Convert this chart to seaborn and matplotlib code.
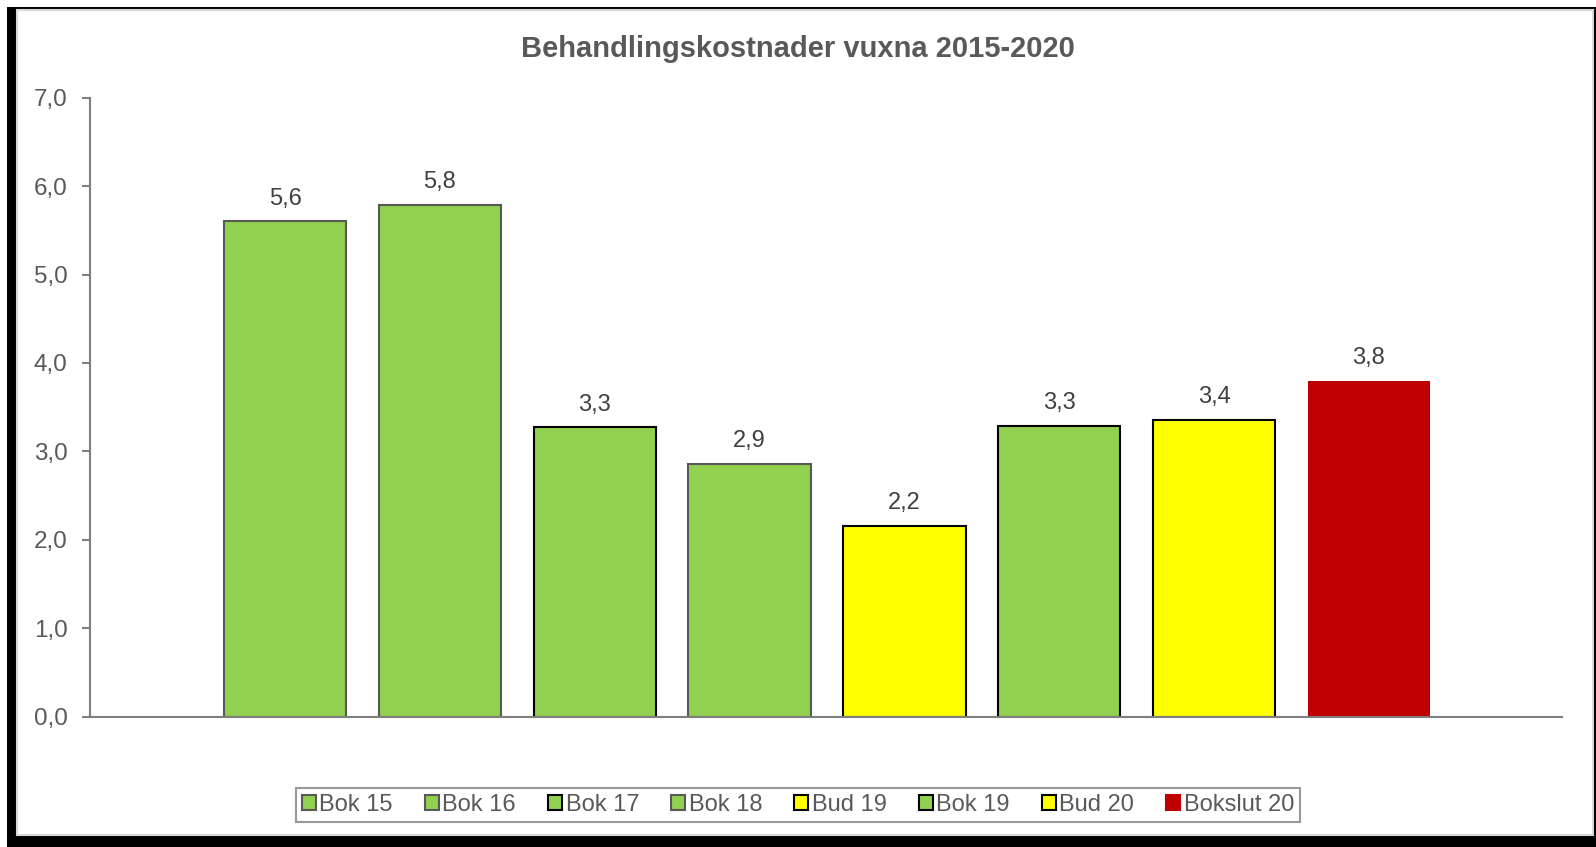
import seaborn as sns
import matplotlib.pyplot as plt
import pandas as pd
from matplotlib.patches import Patch, Rectangle

# data
categories = ["Bok 15", "Bok 16", "Bok 17", "Bok 18", "Bud 19", "Bok 19", "Bud 20", "Bokslut 20"]
values = [5.6, 5.79, 3.27, 2.86, 2.16, 3.29, 3.36, 3.8]
yticks = [0, 1, 2, 3, 4, 5, 6, 7]

GREEN = "#92D050"
YELLOW = "#FFFF00"
RED = "#C00000"
fill_colors = [GREEN, GREEN, GREEN, GREEN, YELLOW, GREEN, YELLOW, RED]
edge_colors = ["#595959", "#595959", "#000000", "#595959", "#000000", "#000000", "#000000", "none"]

df = pd.DataFrame({"kategori": categories, "kostnad": values})

sns.set_style("white")
plt.rcParams["font.family"] = ["Liberation Sans", "DejaVu Sans"]

W, H = 1596, 847
fig = plt.figure(figsize=(W / 100, H / 100), dpi=100)

# frame with shadow
fig.patches.append(Rectangle((7 / W, 0), 1 - 7 / W, 1 - 7 / H,
                             transform=fig.transFigure, facecolor="black",
                             edgecolor="none", zorder=-2))
fig.patches.append(Rectangle((17 / W, 12 / H), (1593 - 17) / W, (837 - 12) / H,
                             transform=fig.transFigure, facecolor="white",
                             edgecolor="#d9d9d9", linewidth=1.5, zorder=-1))

ax = fig.add_axes([89.6 / W, 1 - 716.6 / H, (1562.4 - 89.6) / W, (716.6 - 97.7) / H])
ax.set_facecolor("none")

sns.barplot(data=df, x="kategori", y="kostnad", hue="kategori", palette=fill_colors,
            width=120 / 152, legend=False, ax=ax, saturation=1)

for bar, ec in zip(ax.patches, edge_colors):
    bar.set_edgecolor(ec)
    bar.set_linewidth(1.5 if ec != "none" else 0)

for i, v in enumerate(values):
    ax.text(i, v + 0.13, f"{v:.1f}".replace(".", ","), ha="center", va="bottom",
            fontsize=17, color="#404040")

ax.set_xlim(-1.263, 8.25)
ax.set_ylim(0, 7)
ax.set_yticks(yticks)
ax.set_yticklabels([f"{t:.1f}".replace(".", ",") for t in yticks], fontsize=17.5, color="#595959")
ax.set_xticks([])
ax.set_xlabel("")
ax.set_ylabel("")

for side in ["top", "right"]:
    ax.spines[side].set_visible(False)
for side in ["left", "bottom"]:
    ax.spines[side].set_color("#7f7f7f")
    ax.spines[side].set_linewidth(1.5)
ax.tick_params(axis="y", direction="out", length=6, width=1.5, color="#7f7f7f", pad=10, left=True)

fig.text(0.5, 1 - 49 / H, "Behandlingskostnader vuxna 2015-2020", ha="center", va="center",
         fontsize=21, fontweight="bold", color="#595959")

handles = [Patch(facecolor=fc, edgecolor=(ec if ec != "none" else fc), linewidth=1.5)
           for fc, ec in zip(fill_colors, edge_colors)]
leg = fig.legend(handles, categories, loc="center", ncol=8,
                 bbox_to_anchor=(0.5, 1 - 805 / H), fontsize=17, frameon=True,
                 fancybox=False, edgecolor="#7f7f7f", handlelength=0.6, handleheight=0.6,
                 handletextpad=0.15, columnspacing=1.35, borderpad=0.25)
leg.get_frame().set_linewidth(1.5)
for t in leg.get_texts():
    t.set_color("#595959")

fig.savefig("out.png", dpi=100)
